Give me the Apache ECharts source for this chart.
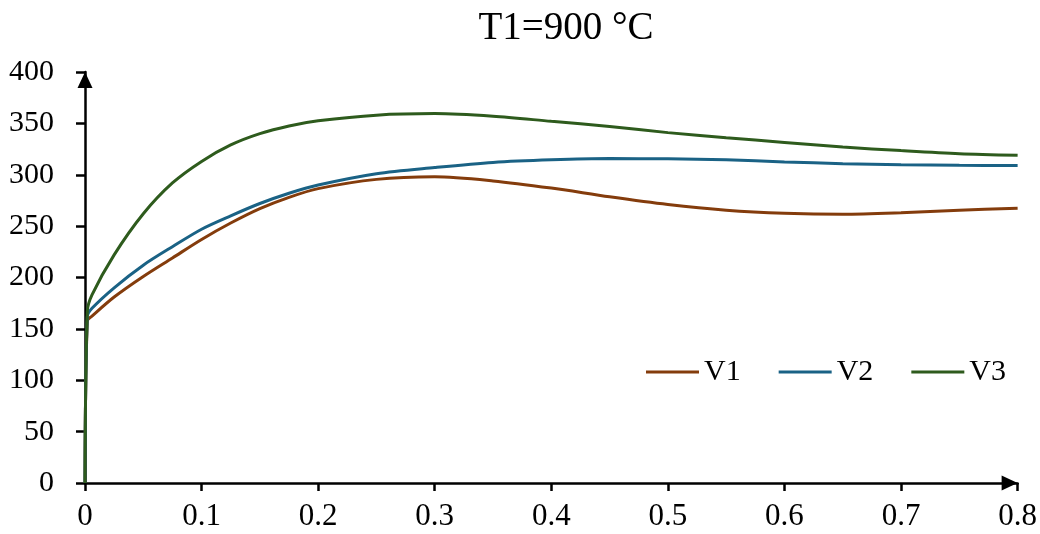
<!DOCTYPE html>
<html>
<head>
<meta charset="utf-8">
<script src="https://cdn.jsdelivr.net/npm/echarts@6/dist/echarts.min.js"></script>
<style>html,body{margin:0;padding:0;background:#fff}#c{width:1040px;height:534px}</style>
</head>
<body>
<div id="c"></div>
<script>
const titleText = 'T1=900 °C';
const xValues = [0, 0.002, 0.006, 0.025, 0.05, 0.075, 0.1, 0.125, 0.15, 0.175, 0.2, 0.25, 0.3, 0.35, 0.4, 0.45, 0.5, 0.55, 0.6, 0.65, 0.7, 0.75, 0.8];
const v1 = [0, 158, 162.5, 181, 201, 219, 237, 253, 267, 278, 286.5, 295.5, 298, 294, 287, 278.5, 271, 265.5, 262.5, 261.5, 263, 265.5, 267.5];
const v2 = [0, 162, 170, 190, 212, 230, 247, 260, 272, 282, 290, 301, 307, 312, 314.5, 315.7, 315.5, 314.5, 312.5, 310.8, 309.8, 309.2, 309];
const v3 = [0, 167, 183, 222, 262, 292, 313, 329, 340, 347.5, 352.5, 358, 359.5, 357, 352, 347, 341, 336, 331.5, 327, 323.5, 320.5, 319];
const seriesNames = ['V1', 'V2', 'V3'];
const seriesColors = ['#843C0C', '#1A6285', '#2E5B1D'];

const font = 'Liberation Serif';
const pair = ys => xValues.map((x, i) => [x, ys[i]]);
const allData = [v1, v2, v3];

const chart = echarts.init(document.getElementById('c'), null, {renderer: 'canvas'});
chart.setOption({
  animation: false,
  backgroundColor: '#fff',
  title: {
    text: titleText, left: 561, top: 4, textAlign: 'center',
    textStyle: {fontFamily: font, fontSize: 39, fontWeight: 'normal', color: '#000'}
  },
  legend: {
    data: seriesNames, left: 641, top: 352, icon: 'rect', itemWidth: 53, itemHeight: 3, itemGap: 38,
    textStyle: {fontFamily: font, fontSize: 30, color: '#000'}
  },
  grid: {left: 85, right: 21, top: 72, bottom: 51, containLabel: false},
  xAxis: {
    type: 'value', min: 0, max: 0.8, interval: 0.1,
    axisLine: {show: true, lineStyle: {color: '#000', width: 2.5}, symbol: ['none', 'triangle'], symbolSize: [15, 16], symbolOffset: [0, -8]},
    axisTick: {show: true, inside: false, length: 8, lineStyle: {color: '#000', width: 2.5}},
    axisLabel: {fontFamily: font, fontSize: 31, color: '#000', margin: 18},
    splitLine: {show: false}
  },
  yAxis: {
    type: 'value', min: 0, max: 400, interval: 50,
    axisLine: {show: true, lineStyle: {color: '#000', width: 2.5}, symbol: ['none', 'triangle'], symbolSize: [15, 16], symbolOffset: [0, -8]},
    axisTick: {show: true, inside: false, length: 9, lineStyle: {color: '#000', width: 2.5}},
    axisLabel: {fontFamily: font, fontSize: 30, color: '#000', margin: 31},
    splitLine: {show: false}
  },
  series: seriesNames.map((n, i) => ({
    name: n, type: 'line', data: pair(allData[i]), showSymbol: false, symbol: 'none',
    smooth: 0.3,
    lineStyle: {color: seriesColors[i], width: 3}, itemStyle: {color: seriesColors[i]}
  }))
});
</script>
</body>
</html>
